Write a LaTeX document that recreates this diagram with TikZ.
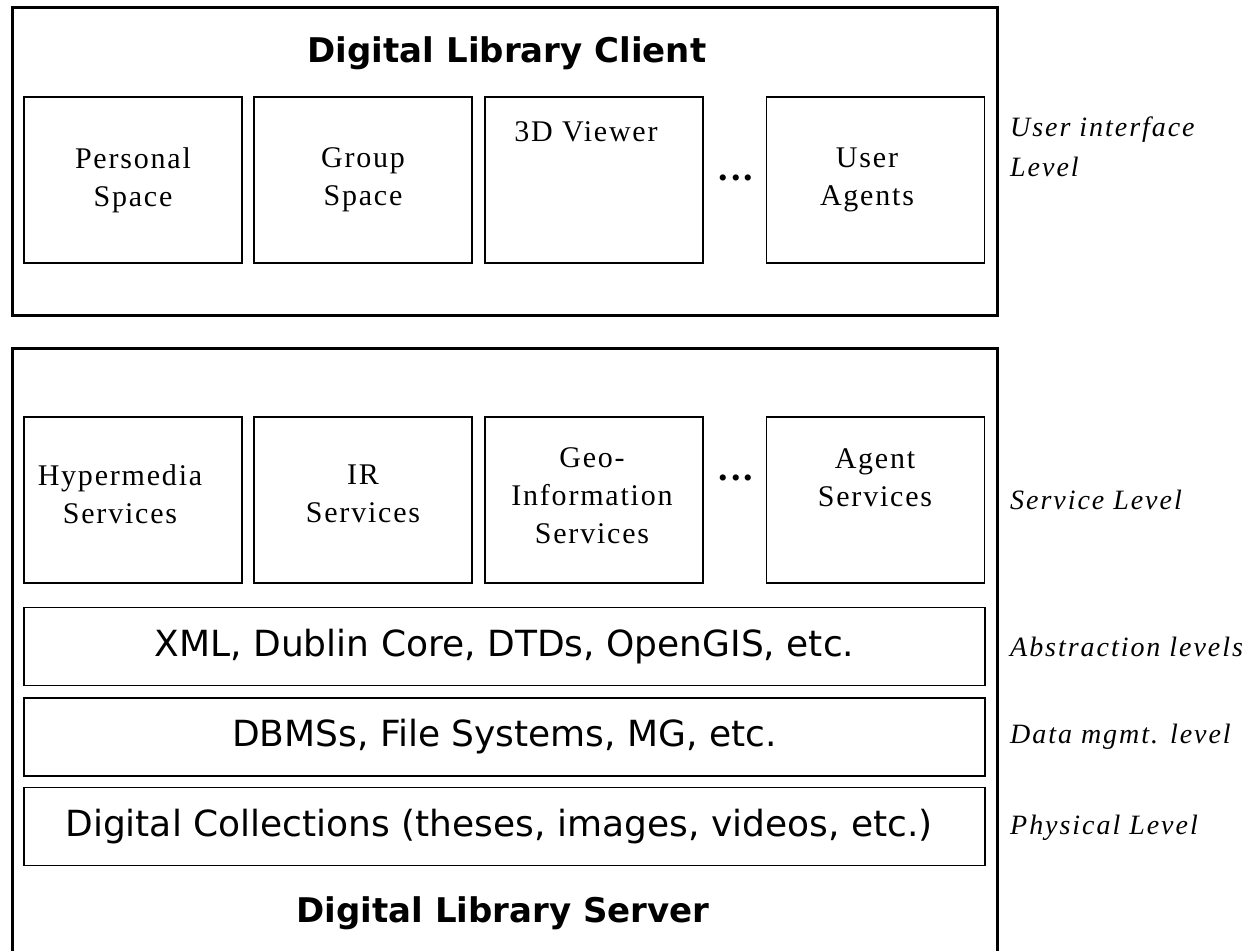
\documentclass[tikz,border=0pt]{standalone}
\usepackage{fontspec}
\setmainfont{Liberation Serif}
\newfontfamily\partfont[LetterSpace=6]{Liberation Serif}
\newfontfamily\levelfont[LetterSpace=7]{Liberation Serif}
\newfontfamily\layerfont{DejaVu Sans}

\begin{document}
\begin{tikzpicture}[x=1pt,y=-1pt,%
  outer/.style={draw=black,line width=3pt},%
  part/.style={draw=black,line width=1.4pt,minimum width=218pt,%
  minimum height=166pt,inner sep=0pt},%
  layer/.style={draw=black,line width=1.4pt,minimum width=961pt,%
  minimum height=78pt,inner sep=0pt,%
  font=\layerfont\fontsize{36}{44}\selectfont},%
  title/.style={font=\layerfont\bfseries\fontsize{34}{40}\selectfont},%
  partname/.style={align=center,inner sep=0pt,%
  font=\partfont\fontsize{30}{38}\selectfont},%
  level/.style={anchor=west,align=left,inner sep=0pt,%
  font=\levelfont\itshape\fontsize{28}{40}\selectfont},%
  more/.style={inner sep=0pt,font=\fontsize{38}{44}\selectfont\bfseries}]

  \useasboundingbox (0,0) rectangle (1246,950);

  % client side
  \draw[outer] (12,8) rectangle (997,315);
  \node[title] (client) at (507,53) {Digital Library Client};
  \node[part] (personal) at (133,180) {};
  \node[part] (group) at (363,180) {};
  \node[part] (viewer) at (594,180) {};
  \node[part] (agents) at (875.5,180) {};
  \node[partname] (personaltxt) at (133,180) {Personal\\Space};
  \node[partname] (grouptxt) at (363,180) {Group\\Space};
  \node[partname] (viewertxt) at (586,132) {3D Viewer};
  \node[partname] (agentstxt) at (867,180) {User\\Agents};
  \node[more] (clientmore) at (736,178) {.\hspace{3pt}.\hspace{3pt}.};

  % server side
  \draw[outer] (12,348) rectangle (997,965);
  \node[part] (hyper) at (133,500) {};
  \node[part] (ir) at (363,500) {};
  \node[part] (geo) at (594,500) {};
  \node[part] (agentsrv) at (875.5,500) {};
  \node[partname] (hypertxt) at (120,494) {Hypermedia\\Services};
  \node[partname] (irtxt) at (363,494) {IR\\Services};
  \node[partname] (geotxt) at (592,496) {Geo-\\Information\\Services};
  \node[partname] (agentsrvtxt) at (875,478) {Agent\\Services};
  \node[more] (servermore) at (736,478) {.\hspace{3pt}.\hspace{3pt}.};

  \node[layer] (abstract) at (504.5,646.5) {XML, Dublin Core, DTDs, OpenGIS, etc.};
  \node[layer] (data) at (504.5,737) {DBMSs, File Systems, MG, etc.};
  \node[layer] (physical) at (504.5,826.5) {\hspace*{-11pt}Digital Collections (theses, images, videos, etc.)};
  \node[title] (server) at (503,913) {Digital Library Server};

  % levels
  \node[level] (uilevel) at (1010,147) {User interface\\Level};
  \node[level] (srvlevel) at (1010,500) {Service Level};
  \node[level] (abslevel) at (1010,647) {Abstraction levels};
  \node[level] (datalevel) at (1010,737) {Data mgmt. level};
  \node[level] (phylevel) at (1010,828) {Physical Level};
\end{tikzpicture}
\end{document}
